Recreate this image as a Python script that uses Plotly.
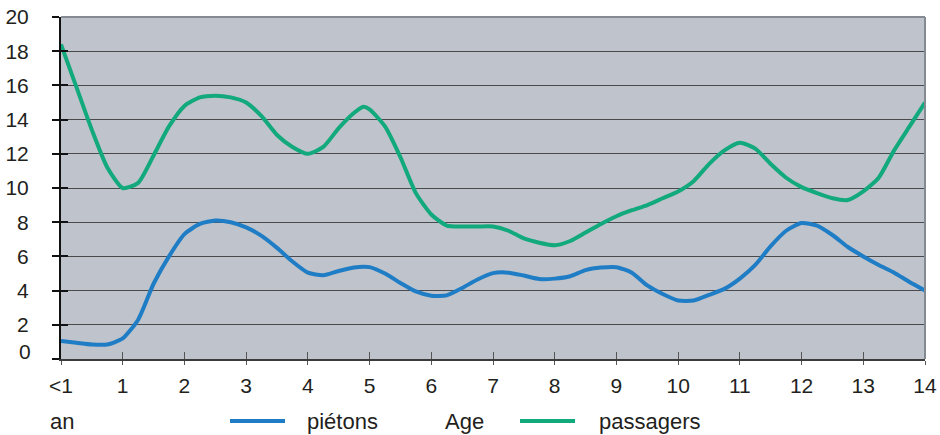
import plotly.graph_objects as go

# Age in years (0 stands for "<1")
ages = [0, 0.25, 0.5, 0.75, 1.0, 1.25, 1.5, 1.75, 2.0, 2.25, 2.5, 2.75, 3.0, 3.25, 3.5, 3.75,
        4.0, 4.25, 4.5, 4.75, 4.9, 5.0, 5.25, 5.5, 5.75, 6.0, 6.25, 6.5, 6.75, 7.0, 7.25, 7.5, 7.75,
        8.0, 8.25, 8.5, 8.75, 9.0, 9.25, 9.5, 9.75, 10.0, 10.25, 10.5, 10.75, 11.0, 11.25,
        11.5, 11.75, 12.0, 12.25, 12.5, 12.75, 13.0, 13.25, 13.5, 13.75, 14.0]

pietons = [1.05, 0.95, 0.85, 0.85, 1.2, 2.3, 4.4, 6.0, 7.3, 7.9, 8.1, 8.0, 7.7, 7.2, 6.5, 5.7,
           5.05, 4.9, 5.15, 5.35, 5.4, 5.37, 5.0, 4.45, 3.95, 3.7, 3.72, 4.15, 4.65, 5.02, 5.05, 4.88, 4.68,
           4.7, 4.84, 5.2, 5.35, 5.37, 5.05, 4.3, 3.8, 3.42, 3.42, 3.75, 4.1, 4.7, 5.5,
           6.6, 7.5, 7.95, 7.8, 7.25, 6.55, 6.0, 5.5, 5.05, 4.5, 4.0]

passagers = [18.4, 15.9, 13.4, 11.2, 10.0, 10.3, 11.9, 13.6, 14.8, 15.3, 15.4, 15.3, 15.0, 14.2, 13.1, 12.4,
             12.0, 12.4, 13.5, 14.4, 14.75, 14.6, 13.6, 11.8, 9.7, 8.45, 7.8, 7.75, 7.75, 7.75, 7.5, 7.05, 6.8,
             6.65, 6.9, 7.4, 7.9, 8.35, 8.7, 9.0, 9.4, 9.8, 10.4, 11.4, 12.2, 12.65, 12.3,
             11.4, 10.6, 10.05, 9.7, 9.4, 9.3, 9.8, 10.6, 12.2, 13.6, 15.0]

x_ticks = list(range(0, 15))
x_tick_labels = ["<1"] + [str(i) for i in range(1, 15)]
y_ticks = list(range(0, 21, 2))
# the "0" label is set slightly higher, clear of the age labels
y_tick_labels = [""] + [str(v) for v in y_ticks[1:]]

BLUE = "#1f7dc6"
GREEN = "#12a97d"
TEXT = "#231f20"
FONT = "Liberation Sans, Arial, sans-serif"

fig = go.Figure()
fig.add_trace(go.Scatter(x=ages, y=pietons, mode="lines", name="piétons",
                         line=dict(color=BLUE, width=4, shape="spline", smoothing=0.6)))
fig.add_trace(go.Scatter(x=ages, y=passagers, mode="lines", name="passagers",
                         line=dict(color=GREEN, width=4, shape="spline", smoothing=0.6)))
# empty trace so the overlay axes (inner half of the ticks) get a subplot
fig.add_trace(go.Scatter(x=[], y=[], xaxis="x2", yaxis="y2", showlegend=False, hoverinfo="skip"))

fig.update_layout(
    width=940, height=435,
    margin=dict(l=61, r=15, t=17, b=76),
    paper_bgcolor="white",
    plot_bgcolor="#bfc3cb",
    showlegend=False,
    font=dict(family=FONT, size=21, color=TEXT),
    xaxis=dict(range=[0, 14], tickmode="array", tickvals=x_ticks, ticktext=x_tick_labels,
               automargin=False,
               showgrid=False, zeroline=False, showline=True, linecolor="#3c3c3c", linewidth=1.5,
               ticks="outside", ticklen=4, tickcolor="#555555", tickwidth=1.3,
               ticklabelstandoff=3),
    yaxis=dict(range=[0, 20], tickmode="array", tickvals=y_ticks, ticktext=y_tick_labels,
               automargin=False,
               showgrid=True, gridcolor="#4a4a4c", gridwidth=1.3, zeroline=False,
               showline=True, linecolor="#111111", linewidth=2,
               ticks="outside", ticklen=7, tickcolor="#111111", tickwidth=1.5,
               ticklabelstandoff=19),
    xaxis2=dict(range=[0, 14], overlaying="x", anchor="y2", tickmode="array", tickvals=x_ticks,
                showticklabels=False, showgrid=False, zeroline=False, showline=False,
                automargin=False,
                ticks="inside", ticklen=7, tickcolor="#555555", tickwidth=1.3),
    yaxis2=dict(range=[0, 20], overlaying="y", anchor="x2", tickmode="array", tickvals=y_ticks,
                showticklabels=False, showgrid=False, zeroline=False, showline=False,
                automargin=False,
                ticks="inside", ticklen=7, tickcolor="#111111", tickwidth=1.5),
)

# light frame on the top and right edges of the plotting area
fig.add_shape(type="line", xref="paper", yref="paper", x0=0, x1=1, y0=1, y1=1,
              line=dict(color="#858b93", width=2))
fig.add_shape(type="line", xref="paper", yref="paper", x0=1, x1=1, y0=0, y1=1,
              line=dict(color="#858b93", width=2))

# legend row below the axis
PLOT_L, PLOT_W, PLOT_B, PLOT_H = 61, 864, 359, 342


def px_x(px):
    return (px - PLOT_L) / PLOT_W


def px_y(py):
    return (PLOT_B - py) / PLOT_H


fig.add_annotation(text=str(y_ticks[0]), xref="paper", yref="paper", x=px_x(33), y=px_y(351),
                   xanchor="right", yanchor="middle", showarrow=False,
                   font=dict(family=FONT, size=21, color=TEXT))

LEG_Y = 421
for x0, x1, color in [(230, 285, BLUE), (520, 575, GREEN)]:
    fig.add_shape(type="line", xref="paper", yref="paper",
                  x0=px_x(x0), x1=px_x(x1), y0=px_y(LEG_Y), y1=px_y(LEG_Y),
                  line=dict(color=color, width=4))

for label, left in [("an", 48), ("piétons", 305), ("Age", 443), ("passagers", 597)]:
    fig.add_annotation(text=label, xref="paper", yref="paper", x=px_x(left), y=px_y(LEG_Y),
                       xanchor="left", yanchor="middle", showarrow=False,
                       font=dict(family=FONT, size=22, color=TEXT))

fig.write_html("out.html")
